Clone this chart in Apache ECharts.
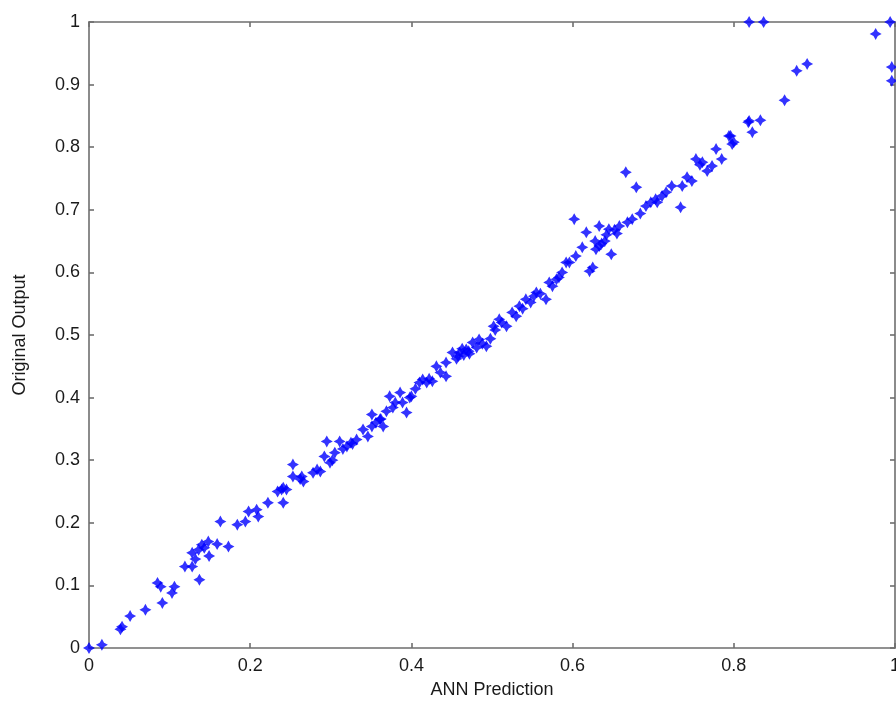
<!DOCTYPE html>
<html>
<head>
<meta charset="utf-8">
<script src="https://cdn.jsdelivr.net/npm/echarts@6/dist/echarts.min.js"></script>
<style>html,body{margin:0;padding:0;background:#fff;}#c{width:896px;height:714px;}</style>
</head>
<body>
<div id="c"></div>
<script>
var xTicks = [0, 0.2, 0.4, 0.6, 0.8, 1];
var yTicks = [0, 0.1, 0.2, 0.3, 0.4, 0.5, 0.6, 0.7, 0.8, 0.9, 1];
var annPrediction = [
0.000,0.016,0.039,0.041,0.051,0.070,0.091,0.085,0.089,0.103,0.106,0.137,0.119,0.128,0.128,0.136,0.140,0.148,0.149,0.159,0.173,0.163,0.184,0.194,0.198,0.208,0.210,0.222,0.234,0.241,
0.241,0.239,0.245,0.253,0.253,0.264,0.266,0.278,0.283,0.295,0.292,0.299,0.305,0.311,0.320,0.332,0.340,0.351,0.351,0.346,0.361,0.365,0.369,0.373,0.377,0.386,0.389,0.394,0.400,0.410,0.419,0.426,0.431,0.443,
0.414,0.443,0.451,0.460,0.468,0.476,0.484,0.493,0.509,0.518,0.525,0.534,0.542,0.555,0.567,0.571,0.580,0.587,0.596,0.604,0.621,0.629,
0.602,0.617,0.633,0.633,0.645,0.648,0.658,0.666,0.679,0.674,0.691,0.703,0.711,0.723,0.734,0.736,0.742,0.753,0.761,0.773,0.778,0.785,0.796,0.800,0.818,0.823,0.592,0.625,
0.819,0.837,0.994,0.976,0.996,0.996,0.878,0.891,0.863,0.819,0.833,0.794,0.798,
0.262,0.287,0.315,0.325,0.356,0.380,0.398,0.436,0.456,0.465,0.472,0.481,0.498,0.504,0.530,0.548,0.560,0.612,0.640,0.655,0.668,0.697,0.716,0.748,0.767,
0.458,0.463,0.471,0.488,0.502,0.512,0.538,0.552,0.575,0.583,0.628,0.636,0.642,0.652,0.684,0.705,0.758,0.143,0.132,0.302,0.327,0.362,0.405,0.422
];
var originalOutput = [
0.000,0.005,0.030,0.034,0.051,0.061,0.072,0.104,0.098,0.088,0.098,0.109,0.130,0.130,0.152,0.157,0.165,0.170,0.147,0.166,0.162,0.202,0.197,0.202,0.218,0.221,0.210,0.232,0.250,0.256,
0.232,0.253,0.253,0.293,0.274,0.274,0.266,0.280,0.285,0.330,0.306,0.296,0.312,0.330,0.322,0.333,0.349,0.373,0.354,0.338,0.365,0.354,0.378,0.402,0.384,0.408,0.392,0.376,0.402,0.424,0.424,0.426,0.450,0.456,
0.429,0.434,0.472,0.472,0.477,0.488,0.493,0.482,0.525,0.514,0.536,0.546,0.557,0.568,0.557,0.584,0.589,0.600,0.616,0.626,0.602,0.637,
0.685,0.664,0.674,0.642,0.669,0.629,0.674,0.760,0.736,0.685,0.706,0.717,0.722,0.738,0.704,0.738,0.752,0.781,0.776,0.770,0.797,0.781,0.818,0.808,0.840,0.824,0.616,0.608,
1.000,1.000,1.000,0.981,0.928,0.906,0.922,0.933,0.875,0.842,0.843,0.818,0.805,
0.270,0.282,0.318,0.328,0.360,0.392,0.400,0.440,0.462,0.468,0.470,0.480,0.494,0.508,0.530,0.552,0.566,0.640,0.650,0.662,0.680,0.712,0.728,0.746,0.762,
0.466,0.478,0.474,0.486,0.514,0.520,0.542,0.562,0.578,0.592,0.650,0.646,0.660,0.668,0.694,0.712,0.772,0.160,0.142,0.300,0.326,0.366,0.414,0.430
];
var pts = annPrediction.map(function (x, i) { return [x, originalOutput[i]]; });
var star = 'path://M0,-10 L3.6,-3.6 L10,0 L3.6,3.6 L0,10 L-3.6,3.6 L-10,0 L-3.6,-3.6 Z';
var axCol = '#6e6e6e';
var font = 'Liberation Sans, Arial, sans-serif';
function axisBase(show) {
  return {
    min: 0, max: 1, interval: 0.2,
    axisLine: { show: true, onZero: false, lineStyle: { color: axCol, width: 1.6 } },
    axisTick: { show: true, inside: true, length: 5, lineStyle: { color: axCol, width: 1.6 } },
    splitLine: { show: false },
    axisLabel: { show: show, color: '#1a1a1a', fontSize: 18, fontFamily: font, margin: 9,
      hideOverlap: false,
      formatter: function (v) { return String(Math.round(v * 10) / 10); } }
  };
}
var xb = axisBase(true);
xb.type = 'value'; xb.position = 'bottom'; xb.name = 'ANN Prediction';
xb.nameLocation = 'middle'; xb.nameGap = 33;
xb.nameTextStyle = { color: '#1a1a1a', fontSize: 18, fontFamily: font };
var xt = axisBase(false); xt.type = 'value'; xt.position = 'top';
var yl = axisBase(true);
yl.type = 'value'; yl.interval = 0.1; yl.position = 'left'; yl.name = 'Original Output';
yl.nameLocation = 'middle'; yl.nameGap = 60;
yl.nameTextStyle = { color: '#1a1a1a', fontSize: 18, fontFamily: font };
var yr = axisBase(false); yr.type = 'value'; yr.interval = 0.1; yr.position = 'right';
var chart = echarts.init(document.getElementById('c'), null, { renderer: 'canvas' });
chart.setOption({
  animation: false,
  backgroundColor: '#ffffff',
  grid: { left: 89, top: 22, right: 1, bottom: 66, containLabel: false, outerBoundsMode: 'none' },
  xAxis: [xb, xt],
  yAxis: [yl, yr],
  series: [{
    type: 'scatter', xAxisIndex: 0, yAxisIndex: 0,
    data: pts, symbol: star, symbolSize: 12,
    itemStyle: { color: '#0000ff' }
  }]
});
</script>
</body>
</html>
